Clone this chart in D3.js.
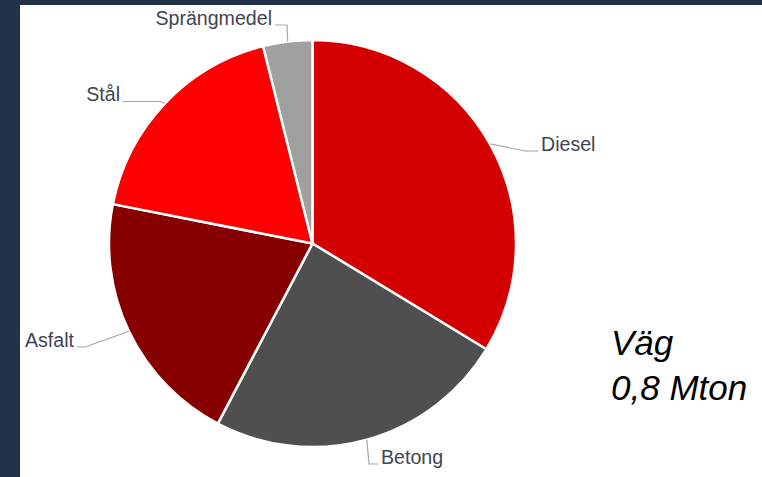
<!DOCTYPE html>
<html>
<head>
<meta charset="utf-8">
<script src="https://cdn.jsdelivr.net/npm/d3@7"></script>
<style>
  body { margin: 0; background: #213249; }
  svg { display: block; }
  .label { font-family: "Liberation Sans", Arial, sans-serif; font-size: 19.6px; fill: #3f4554; }
  .title { font-family: "Liberation Sans", Arial, sans-serif; font-size: 35px; font-style: italic; fill: #000; }
</style>
</head>
<body>
<div id="chart"></div>
<script>
// andel av klimatpåverkan (%), läst ur bilden
const categories = ['Diesel', 'Betong', 'Asfalt', 'Stål', 'Sprängmedel'];
const values = [33.7, 24.0, 20.4, 18.0, 3.9];
const colors = ['#d40000', '#4f4f4f', '#860000', '#ff0000', '#a0a0a0'];
const titleLines = ['Väg', '0,8 Mton'];

// label placement (layout only): elbow point, line end, text anchor
const labelLayout = [
    { elbow: [525, 151], end: [538, 151], anchor: 'start' },
    { elbow: [369, 464], end: [378, 464], anchor: 'start' },
    { elbow: [85, 347], end: [77, 347], anchor: 'end' },
    { elbow: [160, 101.5], end: [123, 101.5], anchor: 'end' },
    { elbow: [287, 25], end: [275, 25], anchor: 'end' }
];

const width = 762, height = 477;
const cx = 312.5, cy = 243.5, radius = 203.5;

const svg = d3.select('#chart').append('svg')
    .attr('width', width)
    .attr('height', height);

svg.append('rect')
    .attr('x', 20).attr('y', 5)
    .attr('width', width - 20).attr('height', height - 5)
    .attr('fill', '#fff');

const data = categories.map((c, i) => ({ name: c, value: values[i], color: colors[i], layout: labelLayout[i] }));

const pie = d3.pie().value(d => d.value).sort(null);
const arc = d3.arc().innerRadius(0).outerRadius(radius);
const edgeArc = d3.arc().innerRadius(radius).outerRadius(radius);

const g = svg.append('g').attr('transform', `translate(${cx},${cy})`);
const arcs = pie(data);

g.selectAll('.slice')
    .data(arcs)
    .join('path')
    .attr('class', 'slice')
    .attr('d', arc)
    .attr('fill', d => d.data.color)
    .attr('stroke', '#fff')
    .attr('stroke-width', 2.5)
    .attr('stroke-linejoin', 'round');

// leader lines from slice edge midpoint
svg.selectAll('.leader')
    .data(arcs)
    .join('polyline')
    .attr('class', 'leader')
    .attr('points', d => {
        const c = edgeArc.centroid(d);
        const l = d.data.layout;
        return [[c[0] + cx, c[1] + cy], l.elbow, l.end].map(p => p.join(',')).join(' ');
    })
    .attr('fill', 'none')
    .attr('stroke', '#a6a6a6')
    .attr('stroke-width', 1.2);

svg.selectAll('.label')
    .data(arcs)
    .join('text')
    .attr('class', 'label')
    .attr('x', d => d.data.layout.end[0] + (d.data.layout.anchor === 'start' ? 3 : -3))
    .attr('y', d => d.data.layout.end[1] - 0.5)
    .attr('text-anchor', d => d.data.layout.anchor)
    .text(d => d.data.name);

svg.selectAll('.title')
    .data(titleLines)
    .join('text')
    .attr('class', 'title')
    .attr('x', 611)
    .attr('y', (d, i) => 355 + i * 45)
    .text(d => d);
</script>
</body>
</html>
